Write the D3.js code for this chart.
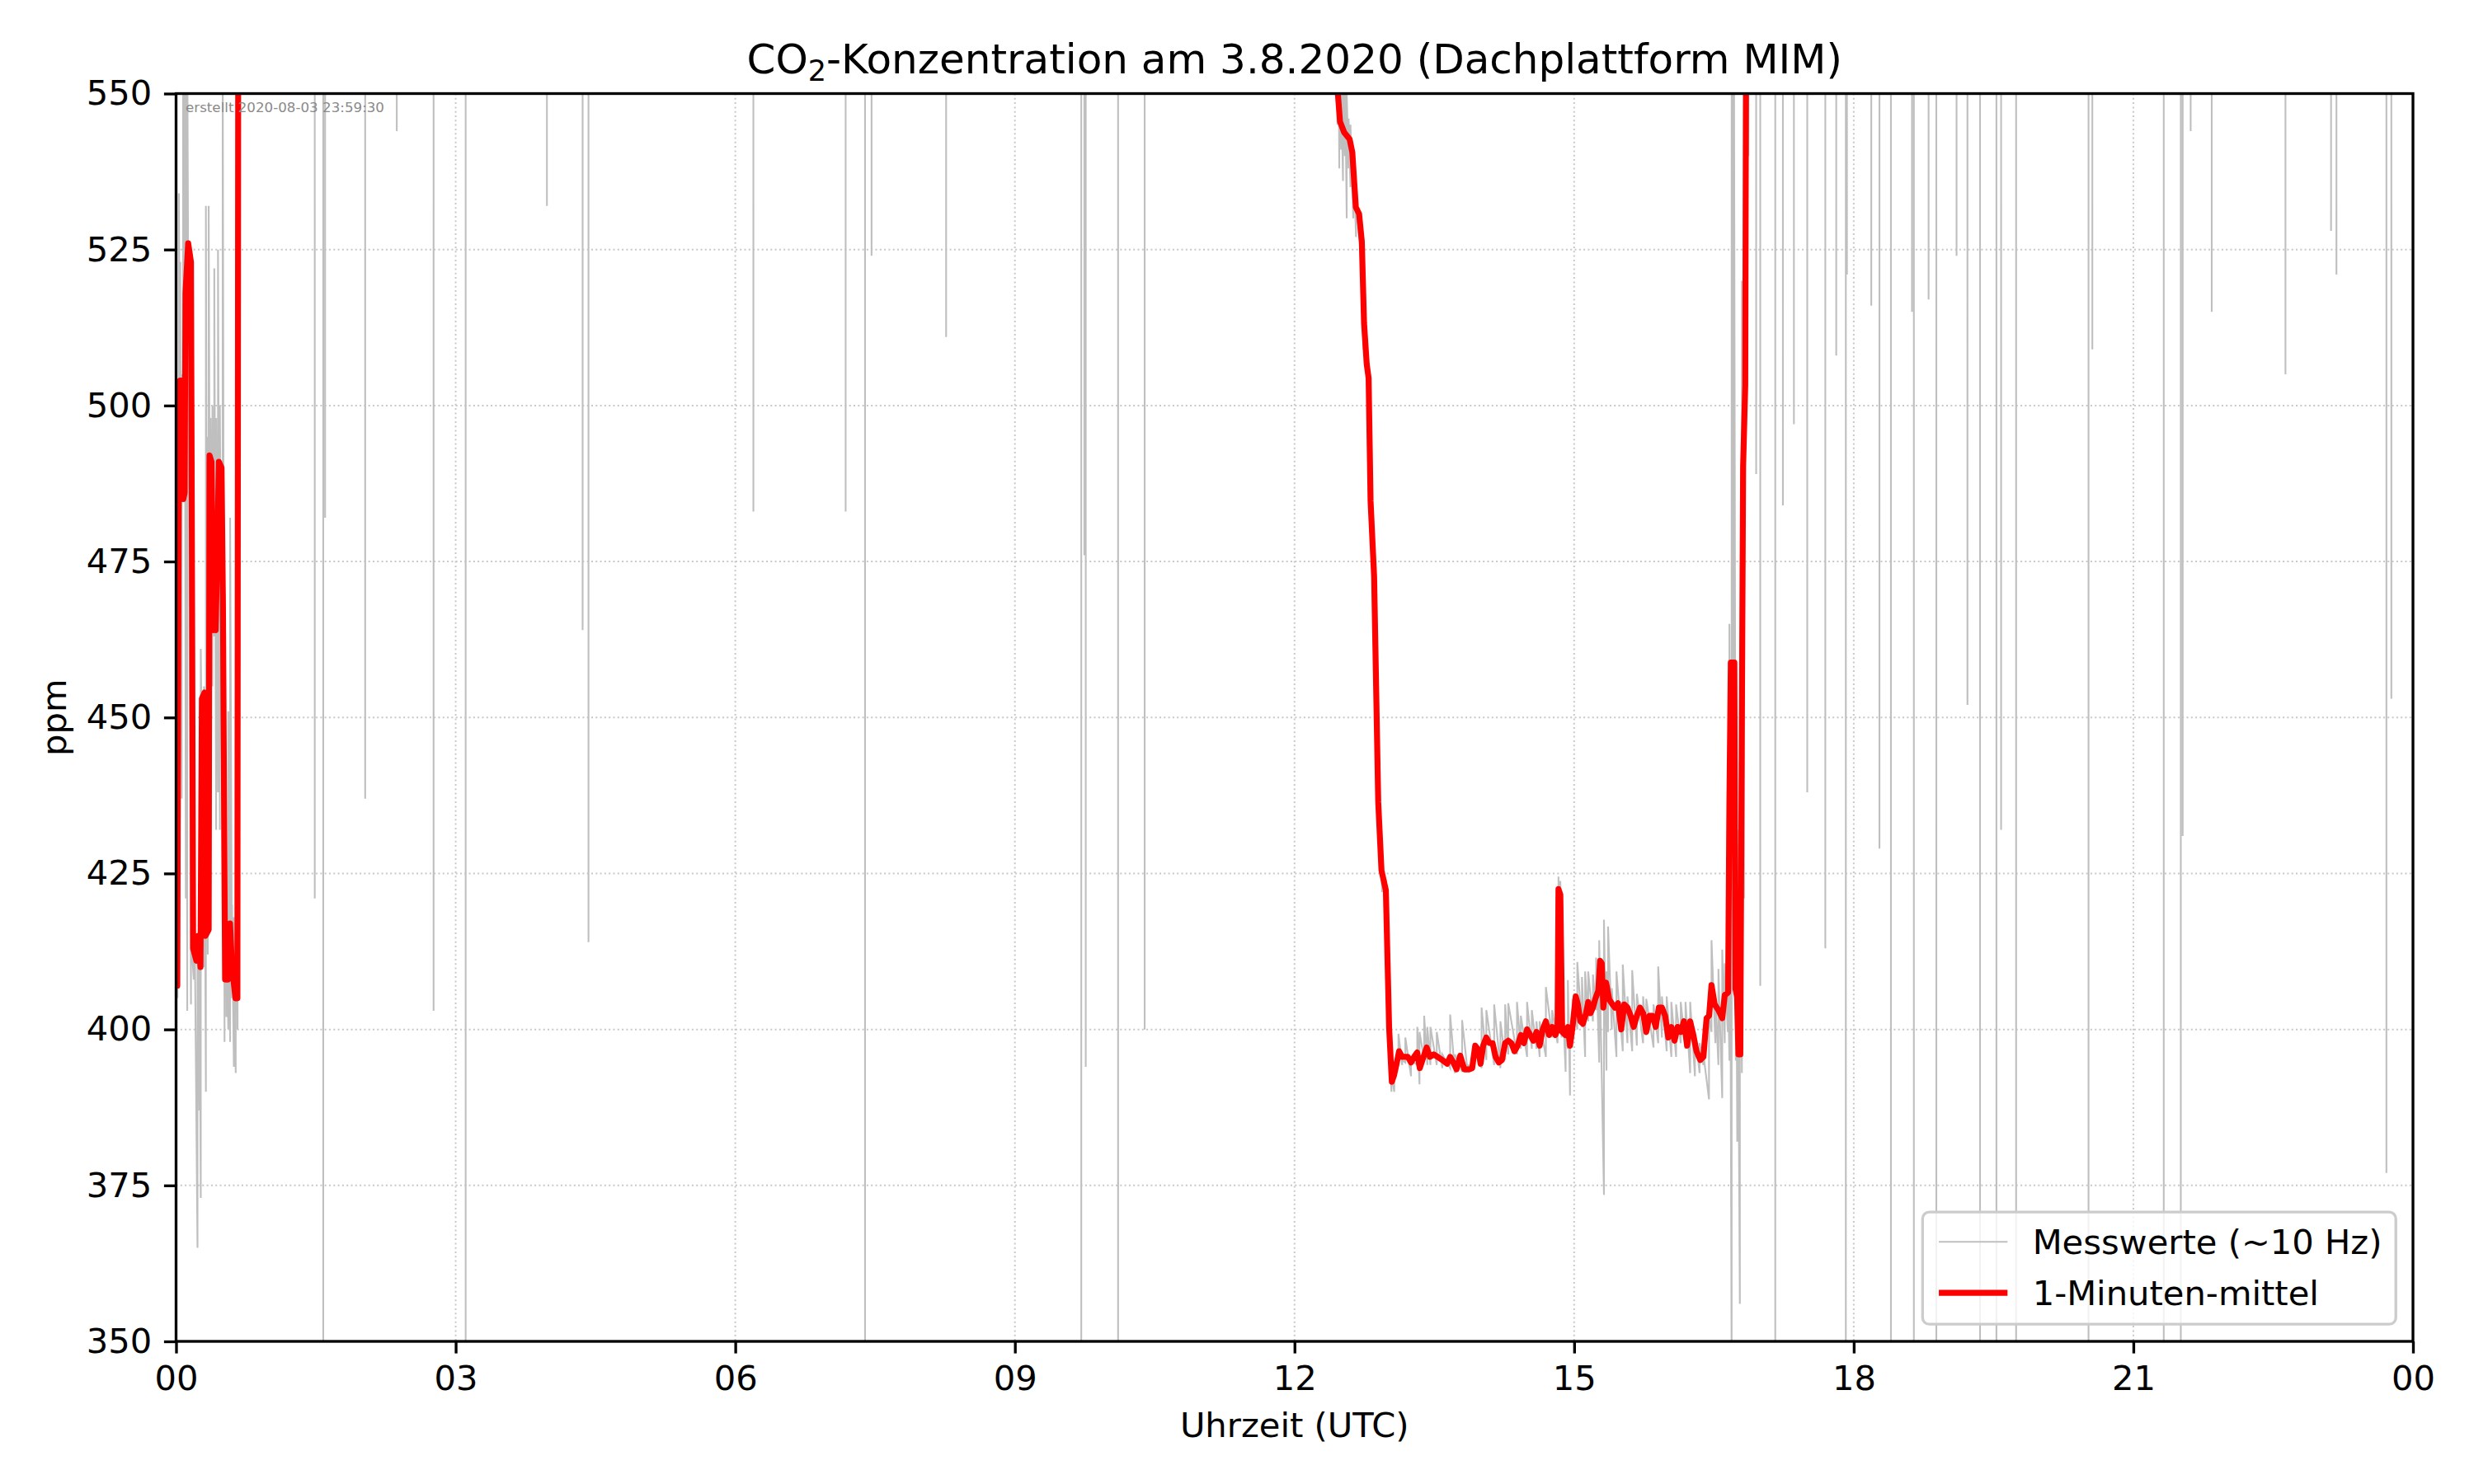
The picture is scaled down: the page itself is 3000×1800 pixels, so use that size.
<!DOCTYPE html>
<html>
<head>
<meta charset="utf-8">
<script src="https://cdn.jsdelivr.net/npm/d3@7"></script>
<style>
body { margin: 0; background: #fff; }
svg { display: block; font-family: "DejaVu Sans", sans-serif; }
</style>
</head>
<body>
<div id="chart"></div>
<script>
// 1-Minuten-Mittel: [Stunde UTC, ppm]
const mittel = [
    [0.000, 407], [0.013, 407], [0.028, 483], [0.043, 504], [0.072, 504], [0.078, 485], [0.092, 486],
    [0.101, 518], [0.130, 526], [0.160, 523], [0.172, 468], [0.183, 413], [0.218, 411], [0.239, 415],
    [0.262, 410], [0.277, 453], [0.306, 454], [0.315, 415], [0.350, 416], [0.359, 492], [0.380, 491],
    [0.400, 464], [0.409, 481], [0.424, 464], [0.438, 473], [0.459, 491], [0.488, 490], [0.503, 468],
    [0.526, 408], [0.556, 408], [0.579, 417], [0.600, 410], [0.638, 405], [0.658, 405], [0.667, 560],
    [0.680, 600],
    [12.440, 600], [12.465, 550], [12.488, 545.5], [12.532, 543.8], [12.591, 542.7], [12.620, 540.6],
    [12.658, 531.8], [12.693, 530.7], [12.722, 526.3], [12.746, 513.2], [12.775, 506.6], [12.795, 504.4],
    [12.816, 484.7], [12.854, 472.6], [12.898, 436.5], [12.933, 425.5], [12.980, 422.3], [13.015, 400.3],
    [13.044, 391.6], [13.067, 392.6], [13.092, 394.3], [13.122, 396.5], [13.155, 395.6], [13.216, 395.6],
    [13.250, 394.7], [13.283, 395.6], [13.316, 396.3], [13.344, 393.8], [13.384, 395.6], [13.418, 397.1],
    [13.452, 395.6], [13.492, 396.0], [13.536, 395.6], [13.586, 395.1], [13.637, 394.5], [13.670, 395.6],
    [13.704, 394.7], [13.738, 393.6], [13.778, 395.8], [13.822, 393.6], [13.872, 393.6], [13.906, 393.8],
    [13.939, 397.4], [13.973, 396.7], [13.996, 394.5], [14.024, 397.4], [14.057, 398.7], [14.091, 397.8],
    [14.125, 397.8], [14.158, 395.6], [14.192, 394.7], [14.226, 395.1], [14.259, 397.8], [14.293, 398.2],
    [14.327, 397.8], [14.360, 396.5], [14.394, 397.4], [14.428, 399.1], [14.461, 397.8], [14.495, 400.0],
    [14.529, 399.1], [14.562, 398.2], [14.596, 399.6], [14.630, 397.4], [14.663, 400.0], [14.697, 401.3],
    [14.731, 399.1], [14.764, 400.4], [14.798, 399.1], [14.822, 400.0], [14.832, 422.5], [14.852, 421.6],
    [14.872, 399.6], [14.906, 399.1], [14.933, 400.4], [14.956, 397.4], [14.983, 400.4], [15.017, 405.3],
    [15.040, 404.0], [15.067, 401.3], [15.094, 400.9], [15.128, 402.6], [15.151, 404.4], [15.175, 402.6],
    [15.202, 403.5], [15.225, 404.8], [15.259, 406.2], [15.279, 411.0], [15.296, 410.6], [15.313, 403.5],
    [15.343, 407.5], [15.377, 404.8], [15.411, 404.0], [15.438, 403.5], [15.471, 404.2], [15.505, 400.0],
    [15.538, 404.0], [15.572, 403.5], [15.606, 402.2], [15.639, 400.4], [15.673, 402.2], [15.707, 403.5],
    [15.740, 402.6], [15.774, 399.6], [15.808, 402.2], [15.841, 402.2], [15.875, 400.4], [15.909, 403.5],
    [15.942, 403.5], [15.976, 402.2], [16.010, 398.7], [16.043, 400.4], [16.077, 398.2], [16.111, 400.4],
    [16.145, 399.6], [16.178, 401.3], [16.212, 397.4], [16.245, 401.3], [16.279, 399.1], [16.313, 396.5],
    [16.353, 395.1], [16.387, 395.6], [16.421, 401.8], [16.448, 402.2], [16.474, 407.1], [16.508, 404.0],
    [16.548, 403.1], [16.589, 401.8], [16.616, 405.5], [16.652, 405.9], [16.666, 436.6], [16.681, 458.8],
    [16.719, 458.8], [16.731, 406.5], [16.748, 405.2], [16.763, 396.0], [16.783, 396.0], [16.798, 444.4],
    [16.813, 490.2], [16.836, 503.3], [16.845, 560], [16.860, 600], [23.990, 600]
];

// Messwerte (~10 Hz), Nacht: [Stunde, min, max]
const messNacht = [
    [0.005, 399, 433], [0.015, 405, 483], [0.030, 478, 534], [0.045, 485, 523], [0.060, 437, 505],
    [0.075, 490, 560], [0.090, 500, 560], [0.105, 421, 560], [0.120, 403, 560], [0.160, 404, 415],
    [0.190, 408, 433], [0.230, 365, 412], [0.250, 387, 416], [0.265, 373, 461], [0.300, 410, 455],
    [0.320, 390, 532], [0.340, 412, 495], [0.350, 420, 532], [0.370, 440, 498], [0.390, 455, 500],
    [0.410, 463, 522], [0.430, 432, 498], [0.450, 438, 525], [0.470, 432, 500], [0.500, 420, 560],
    [0.520, 398, 470], [0.540, 402, 420], [0.560, 400, 451], [0.580, 398, 482], [0.600, 405, 420],
    [0.620, 394, 418], [0.640, 393, 450], [0.660, 400, 415], [0.675, 405, 600]
];

// Messwerte (~10 Hz), Nachmittag: [Stunde, min, max]
const messTag = [
    [12.460, 545, 600], [12.480, 538, 560], [12.500, 541, 552], [12.520, 536, 556], [12.540, 540, 556],
    [12.560, 530, 550], [12.580, 538, 546], [12.600, 535, 545], [12.630, 530, 541], [12.660, 527, 533],
    [12.700, 526, 531], [12.740, 509, 516], [12.780, 504, 508], [12.820, 482, 487], [12.860, 469, 474],
    [12.900, 433, 438], [12.940, 422, 427], [12.980, 419, 424], [13.010, 399, 404], [13.040, 390, 393],
    [13.070, 390, 393], [13.115, 394.3, 399.3], [13.155, 394.3, 395.1], [13.189, 394.7, 398.7],
    [13.250, 392.5, 395.1], [13.317, 394.3, 400.4], [13.341, 391.2, 399.6], [13.391, 395.1, 402.2],
    [13.425, 394.3, 400.4], [13.458, 394.3, 400.4], [13.526, 394.3, 399.6], [13.586, 393.8, 396.0],
    [13.670, 393.8, 402.4], [13.721, 393.0, 396.0], [13.798, 393.2, 401.5], [13.856, 393.4, 394.3],
    [13.923, 393.8, 397.8], [14.007, 393.8, 403.5], [14.058, 395.1, 403.1], [14.142, 394.3, 404.0],
    [14.209, 393.8, 401.3], [14.260, 395.1, 404.0], [14.293, 396.0, 404.2], [14.387, 396.0, 404.4],
    [14.428, 396.9, 402.2], [14.495, 395.6, 404.4], [14.546, 396.9, 403.1], [14.596, 396.9, 401.3],
    [14.630, 395.6, 401.3], [14.697, 395.6, 406.8], [14.764, 398.7, 403.1], [14.822, 397.8, 400.4],
    [14.832, 399.6, 424.5], [14.852, 399.6, 423.8], [14.865, 398.7, 408.4], [14.909, 393.2, 399.6],
    [14.933, 396.9, 407.9], [14.956, 389.4, 400.4], [14.983, 399.6, 404.9], [15.034, 400.0, 410.8],
    [15.084, 400.4, 408.4], [15.118, 395.6, 409.3], [15.151, 401.3, 409.3], [15.202, 401.3, 408.8],
    [15.236, 403.1, 411.5], [15.269, 394.7, 414.3], [15.320, 373.5, 417.6], [15.347, 393.4, 409.3],
    [15.364, 399.6, 416.5], [15.404, 400.0, 406.6], [15.454, 395.6, 409.3], [15.522, 396.5, 410.4],
    [15.572, 397.8, 405.3], [15.623, 396.5, 409.5], [15.673, 397.4, 405.7], [15.740, 397.8, 405.3],
    [15.774, 399.1, 404.9], [15.852, 397.1, 404.0], [15.902, 397.8, 410.1], [15.942, 398.7, 405.3],
    [15.993, 396.5, 405.3], [16.043, 395.6, 404.4], [16.094, 395.6, 404.0], [16.144, 397.8, 404.4],
    [16.195, 396.9, 404.4], [16.245, 393.0, 404.4], [16.296, 392.5, 399.6], [16.346, 393.0, 397.8],
    [16.387, 394.3, 396.0], [16.447, 388.8, 402.2], [16.474, 399.6, 414.3], [16.515, 397.8, 405.3],
    [16.548, 394.3, 409.7], [16.589, 389.0, 412.8], [16.616, 397.8, 410.6], [16.649, 399.6, 409.3],
    [16.666, 395, 465], [16.690, 345, 600], [16.710, 408, 600], [16.735, 395, 436], [16.750, 382, 432],
    [16.778, 356, 443], [16.800, 393, 520], [16.823, 421, 600], [16.845, 505, 600], [16.870, 540, 600]
];

// Einzelne Einbrueche der Messwerte unter 550 ppm: [Stunde, min]
const messDips = [
    [1.488, 421], [1.579, 340], [1.599, 482], [2.029, 437], [2.368, 544], [2.763, 403], [3.107, 340],
    [3.979, 532], [4.362, 464], [4.425, 414], [6.194, 483], [7.184, 483], [7.392, 340], [7.462, 524],
    [8.262, 511], [9.712, 340], [9.745, 476], [9.760, 394], [10.107, 340], [10.392, 400],
    [16.953, 489], [16.997, 407], [17.158, 340], [17.240, 484], [17.358, 497], [17.501, 438],
    [17.695, 413], [17.812, 508], [17.915, 340], [17.927, 521], [18.188, 516], [18.276, 429],
    [18.399, 340], [18.625, 515], [18.645, 340], [18.803, 517], [18.886, 340], [19.103, 524],
    [19.220, 452], [19.355, 340], [19.531, 340], [19.581, 432], [19.742, 340], [20.519, 340],
    [20.560, 509], [21.326, 340], [21.509, 340], [21.529, 431], [21.615, 544], [21.841, 515],
    [22.632, 505], [23.121, 528], [23.179, 521], [23.715, 377], [23.768, 453]
];

const yTicks = [350, 375, 400, 425, 450, 475, 500, 525, 550];
const legendLabels = ['Messwerte (~10 Hz)', '1-Minuten-mittel'];

const width = 3000;
const height = 1800;
const margin = {top: 113.5, right: 74, bottom: 173, left: 213.5};
const fontSize = 41.67;
const redWidth = 7.2;
const grayWidth = 2.1;
const day0 = Date.UTC(2020, 7, 3);
const toDate = h => new Date(day0 + h * 3600e3);

const svg = d3.select('#chart')
    .append('svg')
    .attr('width', width)
    .attr('height', height);

svg.append('rect').attr('width', width).attr('height', height).attr('fill', '#fff');

const x = d3.scaleUtc()
    .domain([toDate(0), toDate(24)])
    .range([margin.left, width - margin.right]);
const y = d3.scaleLinear()
    .domain([350, 550])
    .range([height - margin.bottom, margin.top]);

const xTicks = x.ticks(d3.utcHour.every(3));

svg.append('clipPath').attr('id', 'plot-clip')
    .append('rect')
    .attr('x', margin.left).attr('y', margin.top)
    .attr('width', width - margin.left - margin.right)
    .attr('height', height - margin.top - margin.bottom);

// grid
const grid = svg.append('g').attr('class', 'grid')
    .attr('stroke', '#c8c8c8').attr('stroke-width', 2).attr('stroke-dasharray', '2,3.3');
grid.selectAll('line.gx').data(xTicks).enter().append('line')
    .attr('x1', d => x(d)).attr('x2', d => x(d))
    .attr('y1', margin.top).attr('y2', height - margin.bottom);
grid.selectAll('line.gy').data(yTicks).enter().append('line')
    .attr('y1', d => y(d)).attr('y2', d => y(d))
    .attr('x1', margin.left).attr('x2', width - margin.right);

const line = d3.line()
    .x(d => x(toDate(d[0])))
    .y(d => y(d[1]));

const plot = svg.append('g').attr('clip-path', 'url(#plot-clip)');

function bandPoints(rows) {
    const pts = [];
    rows.forEach(r => {
        pts.push([r[0], r[1]]);
        pts.push([r[0], r[2]]);
    });
    return pts;
}

const dipPoints = [];
messDips.forEach(d => {
    dipPoints.push([d[0], 600]);
    dipPoints.push([d[0], d[1]]);
    dipPoints.push([d[0], 600]);
});

[bandPoints(messNacht), dipPoints, bandPoints(messTag)].forEach(pts => {
    plot.append('path')
        .attr('d', line(pts))
        .attr('fill', 'none')
        .attr('stroke', '#bfbfbf')
        .attr('stroke-width', grayWidth)
        .attr('stroke-linejoin', 'miter');
});

plot.append('path')
    .attr('d', line(mittel))
    .attr('fill', 'none')
    .attr('stroke', '#ff0000')
    .attr('stroke-width', redWidth)
    .attr('stroke-linejoin', 'round')
    .attr('stroke-linecap', 'square');

// axes
const xAxis = svg.append('g')
    .attr('transform', 'translate(0,' + (height - margin.bottom) + ')')
    .call(d3.axisBottom(x).tickValues(xTicks).tickFormat(d3.utcFormat('%H'))
        .tickSize(14.6).tickPadding(14.6));
const yAxis = svg.append('g')
    .attr('transform', 'translate(' + margin.left + ',0)')
    .call(d3.axisLeft(y).tickValues(yTicks).tickFormat(d3.format('d'))
        .tickSize(14.6).tickPadding(14.6));

[xAxis, yAxis].forEach(a => {
    a.select('.domain').remove();
    a.selectAll('line').attr('stroke', '#000').attr('stroke-width', 3.33);
    a.selectAll('text').attr('fill', '#000')
        .style('font-family', '"DejaVu Sans", sans-serif')
        .style('font-size', fontSize + 'px');
});

svg.append('rect')
    .attr('x', margin.left).attr('y', margin.top)
    .attr('width', width - margin.left - margin.right)
    .attr('height', height - margin.top - margin.bottom)
    .attr('fill', 'none').attr('stroke', '#000').attr('stroke-width', 3.33);

// title
const title = svg.append('text')
    .attr('x', (margin.left + width - margin.right) / 2)
    .attr('y', 89)
    .attr('text-anchor', 'middle')
    .style('font-size', '50px');
title.append('tspan').text('CO');
title.append('tspan').text('2').style('font-size', '35px').attr('dy', 9);
title.append('tspan').text('-Konzentration am 3.8.2020 (Dachplattform MIM)').attr('dy', -9);

svg.append('text')
    .attr('x', (margin.left + width - margin.right) / 2)
    .attr('y', 1743)
    .attr('text-anchor', 'middle')
    .style('font-size', fontSize + 'px')
    .text('Uhrzeit (UTC)');

svg.append('text')
    .attr('transform', 'translate(80,' + ((margin.top + height - margin.bottom) / 2) + ') rotate(-90)')
    .attr('text-anchor', 'middle')
    .style('font-size', fontSize + 'px')
    .text('ppm');

svg.append('text')
    .attr('x', 225).attr('y', 136)
    .attr('fill', '#8a8a8a')
    .style('font-size', '16.7px')
    .text('erstellt 2020-08-03 23:59:30');

// legend
const legend = svg.append('g');
const legendFrame = legend.append('rect');
const texts = legend.selectAll('text').data(legendLabels).enter().append('text')
    .style('font-size', fontSize + 'px')
    .text(d => d);
let textW = 0;
texts.each(function () { textW = Math.max(textW, this.getComputedTextLength()); });

const pad = 16.7, handleLen = 83.3, handlePad = 33.3, rowH = 62;
const legW = pad + handleLen + handlePad + textW + pad;
const legH = 136;
const legX = width - margin.right - 20.8 - legW;
const legY = height - margin.bottom - 20.8 - legH;

legendFrame
    .attr('x', legX).attr('y', legY)
    .attr('width', legW).attr('height', legH)
    .attr('rx', 8).attr('ry', 8)
    .attr('fill', 'rgba(255,255,255,0.8)')
    .attr('stroke', '#cccccc').attr('stroke-width', 3.33);

const rowY = i => legY + 36 + i * rowH;
texts.attr('x', legX + pad + handleLen + handlePad)
    .attr('y', (d, i) => rowY(i) + 15);

legend.selectAll('line').data(legendLabels).enter().append('line')
    .attr('x1', legX + pad + 3).attr('x2', legX + pad + handleLen + 3)
    .attr('y1', (d, i) => rowY(i)).attr('y2', (d, i) => rowY(i))
    .attr('stroke', (d, i) => i === 0 ? '#bfbfbf' : '#ff0000')
    .attr('stroke-width', (d, i) => i === 0 ? grayWidth : redWidth);
</script>
</body>
</html>
